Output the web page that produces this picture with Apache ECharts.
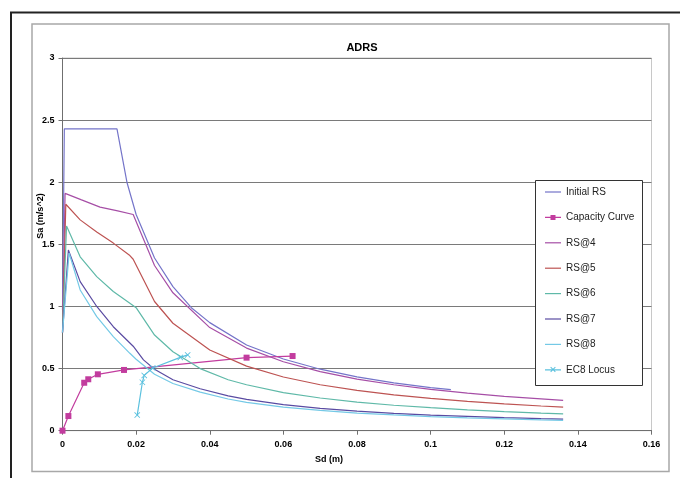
<!DOCTYPE html>
<html>
<head>
<meta charset="utf-8">
<title>ADRS</title>
<script src="https://cdn.jsdelivr.net/npm/echarts@6/dist/echarts.min.js"></script>
<style>
  html, body { margin: 0; padding: 0; background: #fff; }
  #chart { width: 680px; height: 478px; }
</style>
</head>
<body>
<div id="chart"></div>
<script>
// values, [Sd (m), Sa (m/s^2)]
var initialRS = [
  [0, 0.97], [0.0005, 2.43], [0.0148, 2.43], [0.0175, 2.0], [0.02, 1.74],
  [0.025, 1.39], [0.03, 1.16], [0.035, 0.99], [0.04, 0.87], [0.05, 0.69],
  [0.06, 0.577], [0.07, 0.495], [0.08, 0.433], [0.09, 0.385], [0.1, 0.347],
  [0.1055, 0.33]
];
var capacityCurve = [
  [0, 0], [0.0016, 0.118], [0.0059, 0.386], [0.007, 0.414], [0.0096, 0.454],
  [0.0167, 0.489], [0.05, 0.588], [0.0625, 0.601]
];
var rs4 = [
  [0, 0.79], [0.0007, 1.91], [0.005, 1.86], [0.0102, 1.8], [0.015, 1.77],
  [0.0192, 1.74], [0.025, 1.33], [0.03, 1.11], [0.04, 0.83], [0.05, 0.665],
  [0.06, 0.555], [0.07, 0.475], [0.08, 0.415], [0.09, 0.37], [0.1, 0.333],
  [0.11, 0.302], [0.12, 0.277], [0.13, 0.256], [0.136, 0.244]
];
var rs5 = [
  [0, 0.79], [0.0009, 1.823], [0.0048, 1.697], [0.0093, 1.6], [0.0138, 1.51],
  [0.0183, 1.41], [0.0192, 1.38], [0.025, 1.04], [0.03, 0.865], [0.04, 0.65],
  [0.05, 0.52], [0.06, 0.432], [0.07, 0.37], [0.08, 0.324], [0.09, 0.288],
  [0.1, 0.26], [0.11, 0.236], [0.12, 0.216], [0.13, 0.199], [0.136, 0.19]
];
var rs6 = [
  [0, 0.79], [0.0011, 1.648], [0.0048, 1.4], [0.0093, 1.24], [0.0138, 1.12],
  [0.0183, 1.026], [0.02, 0.99], [0.025, 0.77], [0.03, 0.635], [0.0374, 0.5],
  [0.045, 0.41], [0.05, 0.37], [0.06, 0.307], [0.07, 0.263], [0.08, 0.23],
  [0.09, 0.205], [0.1, 0.185], [0.11, 0.168], [0.12, 0.153], [0.13, 0.141],
  [0.136, 0.135]
];
var rs7 = [
  [0, 0.79], [0.0016, 1.455], [0.0048, 1.2], [0.0093, 1.0], [0.0138, 0.837],
  [0.0192, 0.68], [0.022, 0.57], [0.025, 0.495], [0.03, 0.41], [0.0374, 0.338],
  [0.045, 0.28], [0.05, 0.252], [0.06, 0.21], [0.07, 0.18], [0.08, 0.158],
  [0.09, 0.14], [0.1, 0.126], [0.11, 0.115], [0.12, 0.105], [0.13, 0.097],
  [0.136, 0.093]
];
var rs8 = [
  [0, 0.79], [0.0018, 1.43], [0.0048, 1.133], [0.0093, 0.918], [0.0138, 0.757],
  [0.0183, 0.623], [0.02, 0.575], [0.025, 0.455], [0.03, 0.38], [0.0374, 0.31],
  [0.045, 0.255], [0.05, 0.228], [0.06, 0.19], [0.07, 0.163], [0.08, 0.142],
  [0.09, 0.127], [0.1, 0.114], [0.11, 0.103], [0.12, 0.095], [0.13, 0.087],
  [0.136, 0.083]
];
var ec8Locus = [
  [0.0203, 0.126], [0.0217, 0.39], [0.0222, 0.445], [0.0245, 0.505],
  [0.032, 0.59], [0.034, 0.61]
];

var seriesNames = ["Initial RS", "Capacity Curve", "RS@4", "RS@5", "RS@6", "RS@7", "RS@8", "EC8 Locus"];
var seriesData = [initialRS, capacityCurve, rs4, rs5, rs6, rs7, rs8, ec8Locus];
var seriesColors = ["#7474c9", "#c23c9e", "#a64ea6", "#bd5352", "#5fb9a8", "#5a4ba2", "#74c9e6", "#5bc1de"];

var crossPath = "path://M0,1L1,0L5,4L9,0L10,1L6,5L10,9L9,10L5,6L1,10L0,9L4,5Z";
var font = "Liberation Sans, Arial, sans-serif";

// legend icons: a thin line across a 16x10 box (corner moves keep the box size)
var iconBox = "M0,0L0,0M16,10L16,10";
var iconLine = iconBox + "M0,4.4L16,4.4L16,5.6L0,5.6Z";
var iconSquare = iconLine + "M5.5,2.5L10.5,2.5L10.5,7.5L5.5,7.5Z";
var iconCross = iconLine + "M5.3,2.7L6,2L10.7,6.7L10,7.4Z" + "M10,2L10.7,2.7L6,7.4L5.3,6.7Z";

var chart = echarts.init(document.getElementById("chart"), null, { renderer: "canvas" });

var series = seriesNames.map(function (name, i) {
  var s = {
    name: name,
    type: "line",
    data: seriesData[i],
    color: seriesColors[i],
    lineStyle: { width: 1.2, color: seriesColors[i] },
    symbol: "none",
    animation: false
  };
  if (name === "Capacity Curve") {
    s.symbol = "rect";
    s.symbolSize = 6;
    s.itemStyle = { color: seriesColors[i] };
  }
  if (name === "EC8 Locus") {
    s.symbol = crossPath;
    s.symbolSize = 6;
    s.itemStyle = { color: seriesColors[i] };
  }
  return s;
});

var legendData = seriesNames.map(function (name) {
  var icon = iconLine;
  if (name === "Capacity Curve") icon = iconSquare;
  if (name === "EC8 Locus") icon = iconCross;
  return { name: name, icon: "path://" + icon };
});

chart.setOption({
  animation: false,
  title: {
    text: "ADRS",
    left: 357,
    textAlign: "center",
    top: 37,
    textStyle: { fontFamily: font, fontSize: 11, fontWeight: "bold", color: "#000" }
  },
  grid: {
    left: 62.5,
    right: 28.5,
    top: 58,
    bottom: 47.3,
    show: true,
    borderColor: "#c8c8c8",
    borderWidth: 1
  },
  legend: {
    data: legendData,
    orient: "vertical",
    left: 545,
    top: 187,
    padding: 0,
    z: 6,
    itemWidth: 16,
    itemHeight: 10,
    itemGap: 15.4,
    textStyle: { fontFamily: font, fontSize: 10, color: "#222", lineHeight: 10 }
  },
  xAxis: {
    type: "value",
    min: 0,
    max: 0.16,
    interval: 0.02,
    axisLine: { lineStyle: { color: "#6f6f6f", width: 1 } },
    axisTick: { show: true, length: 4, lineStyle: { color: "#6f6f6f" } },
    axisLabel: {
      margin: 9,
      fontFamily: font,
      fontSize: 9,
      fontWeight: "bold",
      color: "#000",
      formatter: function (v) { return String(Math.round(v * 100) / 100); }
    },
    splitLine: { show: false }
  },
  yAxis: {
    type: "value",
    min: 0,
    max: 3,
    interval: 0.5,
    axisLine: { show: true, lineStyle: { color: "#6f6f6f", width: 1 } },
    axisTick: { show: true, length: 4, lineStyle: { color: "#6f6f6f" } },
    axisLabel: {
      margin: 8,
      fontFamily: font,
      fontSize: 9,
      fontWeight: "bold",
      color: "#000"
    },
    splitLine: { show: true, lineStyle: { color: "#7a7a7a", width: 1 } }
  },
  graphic: [
    {
      type: "rect",
      z: -10,
      silent: true,
      shape: { x: 11, y: 12.5, width: 700, height: 500 },
      style: { fill: "none", stroke: "#222", lineWidth: 2 }
    },
    {
      type: "rect",
      z: -10,
      silent: true,
      shape: { x: 32, y: 24, width: 637, height: 447.5 },
      style: { fill: "none", stroke: "#a8a8a8", lineWidth: 1.5 }
    },
    {
      type: "rect",
      z: 5,
      silent: true,
      shape: { x: 535.5, y: 180.5, width: 107, height: 205 },
      style: { fill: "#fff", stroke: "#333", lineWidth: 1 }
    },
    {
      type: "text",
      z: 10,
      silent: true,
      x: 41,
      y: 216,
      rotation: Math.PI / 2,
      style: {
        text: "Sa (m/s^2)",
        font: "bold 9px " + font,
        fill: "#000",
        align: "center",
        verticalAlign: "middle"
      }
    },
    {
      type: "text",
      z: 10,
      silent: true,
      x: 329,
      y: 460,
      style: {
        text: "Sd (m)",
        font: "bold 9px " + font,
        fill: "#000",
        align: "center",
        verticalAlign: "middle"
      }
    }
  ],
  series: series
});
</script>
</body>
</html>
